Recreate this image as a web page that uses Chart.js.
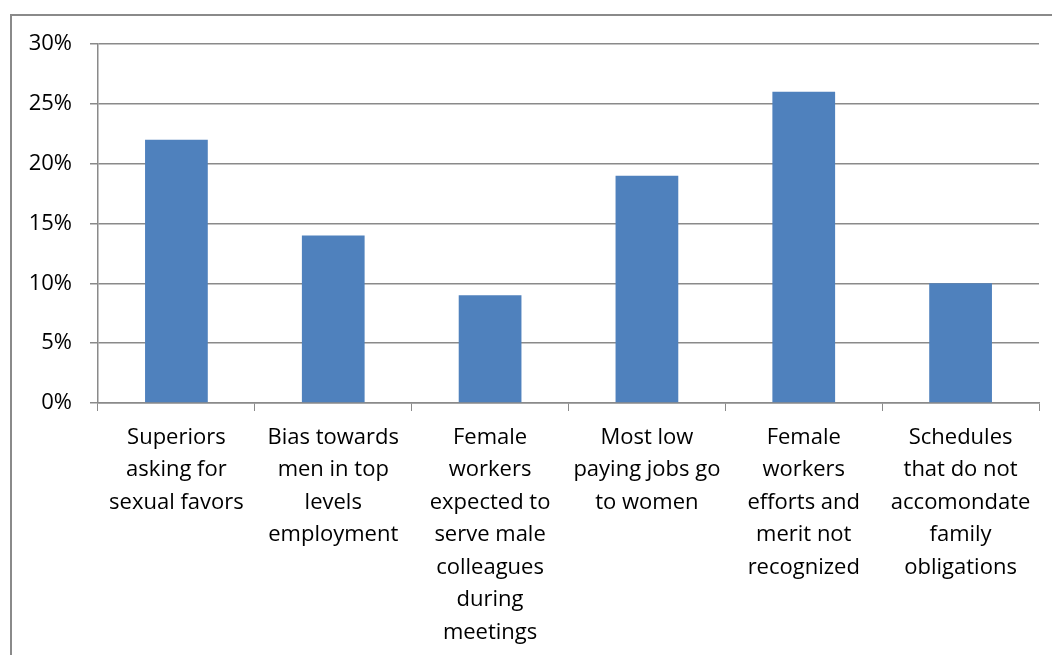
<!DOCTYPE html>
<html>
<head>
<meta charset="utf-8">
<script src="https://cdn.jsdelivr.net/npm/chart.js@4/dist/chart.umd.min.js"></script>
<style>
  html, body { margin: 0; padding: 0; background: #fff; }
  canvas { display: block; }
</style>
</head>
<body>
<canvas id="chart" width="1052" height="655"></canvas>
<script>
const categories = [
    ['Superiors', 'asking for', 'sexual favors'],
    ['Bias towards', 'men in top', 'levels', 'employment'],
    ['Female', 'workers', 'expected to', 'serve male', 'colleagues', 'during', 'meetings'],
    ['Most low', 'paying jobs go', 'to women'],
    ['Female', 'workers', 'efforts and', 'merit not', 'recognized'],
    ['Schedules', 'that do not', 'accomondate', 'family', 'obligations']
];
const shares = [0.22, 0.14, 0.09, 0.19, 0.26, 0.10];
const yTicks = [0, 0.05, 0.10, 0.15, 0.20, 0.25, 0.30];

Chart.defaults.font.family = "'Open Sans', 'Liberation Sans', sans-serif";
Chart.defaults.font.size = 22;
Chart.defaults.color = '#000';

const frameColor = '#8a8a8a';

// outer chart frame (only left and top edges fall inside the canvas)
const frame = {
    id: 'frame',
    afterDraw: (chart) => {
        const { ctx } = chart;
        ctx.save();
        ctx.strokeStyle = frameColor;
        ctx.lineWidth = 2;
        ctx.beginPath();
        ctx.moveTo(11, chart.height);
        ctx.lineTo(11, 15);
        ctx.lineTo(chart.width, 15);
        ctx.stroke();
        ctx.restore();
    }
};

new Chart(document.getElementById('chart'), {
    type: 'bar',
    data: {
        labels: categories,
        datasets: [{
            data: shares,
            backgroundColor: '#4f81bd',
            borderWidth: 0,
            categoryPercentage: 1,
            barPercentage: 0.4
        }]
    },
    options: {
        responsive: false,
        animation: false,
        layout: {
            padding: { top: 44, right: 13, left: 0, bottom: 0 }
        },
        scales: {
            x: {
                grid: {
                    offset: true,
                    drawOnChartArea: false,
                    color: frameColor,
                    tickLength: 8
                },
                border: { color: frameColor, width: 1.5 },
                ticks: {
                    maxRotation: 0,
                    autoSkip: false,
                    padding: 10,
                    font: { lineHeight: 1.48 }
                },
                afterFit: (scale) => { scale.height = 252; }
            },
            y: {
                min: 0,
                max: 0.3,
                afterBuildTicks: (scale) => {
                    scale.ticks = yTicks.map(value => ({ value }));
                },
                grid: {
                    color: frameColor,
                    lineWidth: 1.5,
                    tickLength: 8
                },
                border: { color: frameColor, width: 1.5 },
                ticks: {
                    padding: 18,
                    callback: (v) => Math.round(v * 100) + '%'
                },
                afterFit: (scale) => { scale.width = 98; }
            }
        },
        plugins: {
            legend: { display: false },
            tooltip: { enabled: false }
        }
    },
    plugins: [frame]
});
</script>
</body>
</html>
